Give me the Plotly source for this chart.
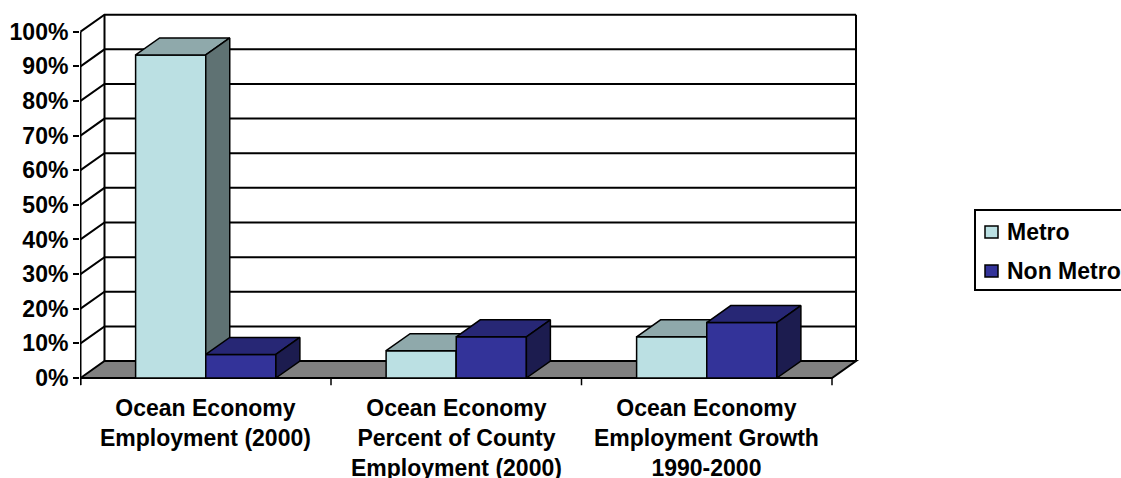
import plotly.graph_objects as go

# ---- data ----
categories = [
    "Ocean Economy<br>Employment (2000)",
    "Ocean Economy<br>Percent of County<br>Employment (2000)",
    "Ocean Economy<br>Employment Growth<br>1990-2000",
]
series_names = ["Metro", "Non Metro"]
metro = [93.3, 7.9, 11.9]
non_metro = [6.8, 11.9, 16.0]
y_ticks = [0, 10, 20, 30, 40, 50, 60, 70, 80, 90, 100]
y_tick_labels = [f"{v}%" for v in y_ticks]

# ---- styling ----
FONT = "Liberation Sans, Arial, sans-serif"
FACE_COLORS = {
    "Metro": {"front": "#BBE0E3", "top": "#8FA9AB", "side": "#5F7273"},
    "Non Metro": {"front": "#333399", "top": "#272775", "side": "#1C1C4F"},
}
BAR_W = 0.28          # bar width in category units
DX, DY = 0.0958, 4.9  # oblique depth offset (x units, percent units)

W, H = 1121, 478
L, R, T, B = 80, 251, 8, 86
X_RANGE = [-0.502, 2.6517]
Y_RANGE = [-4.043, 106.84]

fig = go.Figure()
shapes = []


def poly(xs, ys, fill, width=1.5):
    fig.add_trace(go.Scatter(
        x=xs + [xs[0]], y=ys + [ys[0]], mode="lines", fill="toself",
        fillcolor=fill, line=dict(color="black", width=width),
        hoverinfo="skip", showlegend=False,
    ))


def seg(points, width=2):
    path = "M " + " L ".join(f"{x},{y}" for x, y in points)
    shapes.append(dict(type="path", path=path, xref="x", yref="y",
                       line=dict(color="black", width=width), layer="below"))


n = len(categories)
x_lo, x_hi = -0.5, n - 0.5

# floor
shapes.append(dict(
    type="path", xref="x", yref="y", layer="below",
    path=f"M {x_lo},0 L {x_hi},0 L {x_hi + DX},{DY} L {x_lo + DX},{DY} Z",
    fillcolor="#808080", line=dict(color="black", width=2),
))
# walls: gridlines on side and back wall
for v in y_ticks[1:]:
    seg([(x_lo, v), (x_lo + DX, v + DY), (x_hi + DX, v + DY)])
seg([(x_lo + DX, DY), (x_lo + DX, 100 + DY)])
seg([(x_hi + DX, DY), (x_hi + DX, 100 + DY)])
# front value axis
seg([(x_lo, -2), (x_lo, 100)])
# category separator ticks
for k in range(n + 1):
    seg([(x_lo + k, 0), (x_lo + k, -2.1)], width=1.5)

# bars
for i in range(n):
    for j, (name, vals) in enumerate(zip(series_names, [metro, non_metro])):
        v = vals[i]
        x0 = i - BAR_W + j * BAR_W
        x1 = x0 + BAR_W
        c = FACE_COLORS[name]
        poly([x0, x1, x1, x0], [0, 0, v, v], c["front"])
        poly([x0, x1, x1 + DX, x0 + DX], [v, v, v + DY, v + DY], c["top"])
        poly([x1, x1 + DX, x1 + DX, x1], [0, DY, v + DY, v], c["side"])


# pixel -> paper helpers for items placed outside the data area
def px(x):
    return (x - L) / (W - L - R)


def py(y):
    return (H - B - y) / (H - T - B)


BOLD = dict(family=FONT, size=23, color="black", weight="bold")

# category labels
annotations = []
for i, lab in enumerate(categories):
    annotations.append(dict(
        x=i, y=py(393), xref="x", yref="paper", text=lab, showarrow=False,
        xanchor="center", yanchor="top", align="center", font=BOLD,
    ))

# legend
shapes.append(dict(type="rect", xref="paper", yref="paper",
                   x0=px(975), x1=px(1130), y0=py(290), y1=py(210),
                   line=dict(color="black", width=2), fillcolor="white"))
for name, yc in zip(series_names, [232, 271]):
    shapes.append(dict(type="rect", xref="paper", yref="paper",
                       x0=px(985), x1=px(998), y0=py(yc + 6), y1=py(yc - 6),
                       line=dict(color="black", width=1.5),
                       fillcolor=FACE_COLORS[name]["front"]))
    annotations.append(dict(
        x=px(1005), y=py(yc), xref="paper", yref="paper", text=name,
        showarrow=False, xanchor="left", yanchor="middle", font=BOLD,
    ))

fig.update_layout(
    width=W, height=H,
    margin=dict(l=L, r=R, t=T, b=B, pad=0),
    paper_bgcolor="white", plot_bgcolor="white",
    showlegend=False,
    shapes=shapes, annotations=annotations,
    xaxis=dict(range=X_RANGE, visible=False, fixedrange=True),
    yaxis=dict(
        range=Y_RANGE, tickmode="array", tickvals=y_ticks,
        ticktext=y_tick_labels, ticks="outside", ticklen=6, tickwidth=2,
        tickcolor="black", showgrid=False, zeroline=False, showline=False,
        tickfont=BOLD, fixedrange=True,
    ),
)

fig.write_html("out.html")
